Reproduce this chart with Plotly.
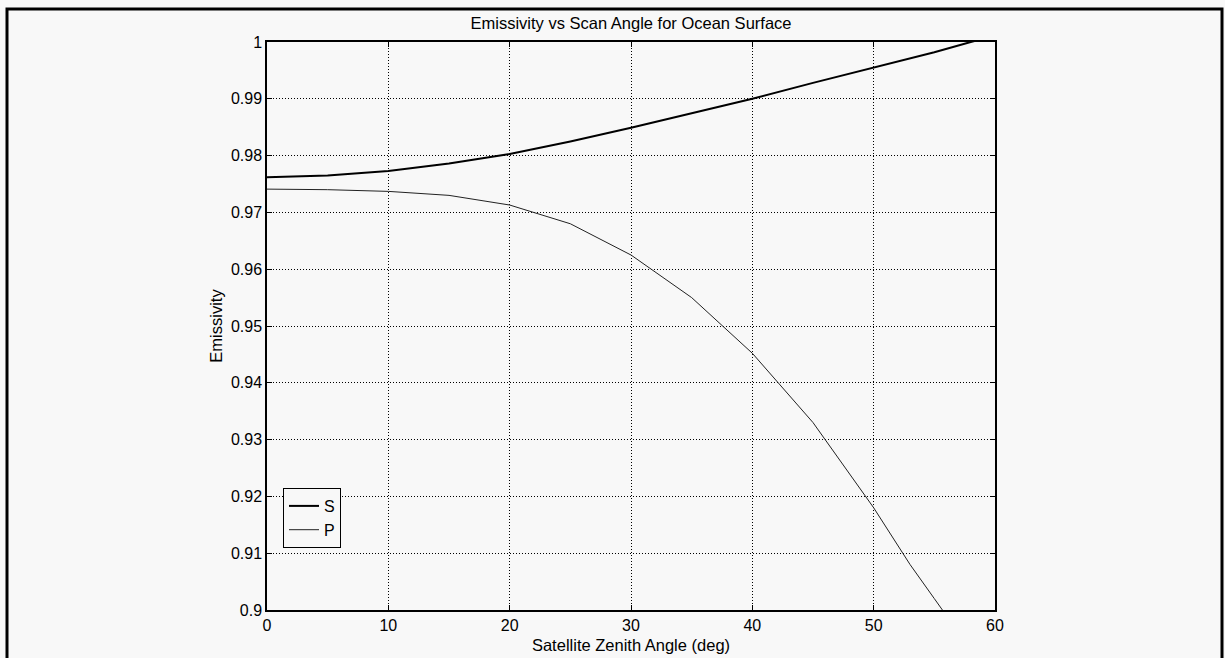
import plotly.graph_objects as go

angle = [0, 5, 10, 15, 20, 25, 30, 35, 40, 45, 50, 55, 58, 60]
emis_s = [0.9762, 0.9765, 0.9773, 0.9786, 0.9803, 0.9825, 0.9849, 0.9874, 0.9900, 0.9928, 0.9955, 0.9982, 1.0, 1.0011]
angle_p = [0, 5, 10, 15, 20, 25, 30, 35, 40, 45, 50, 53, 55, 56, 58, 60]
emis_p = [0.9741, 0.9740, 0.9737, 0.9730, 0.9713, 0.9680, 0.9625, 0.9550, 0.9452, 0.9330, 0.9180, 0.9080, 0.9020, 0.8990, 0.8920, 0.8850]

x_ticks = [0, 10, 20, 30, 40, 50, 60]
y_ticks = [0.9, 0.91, 0.92, 0.93, 0.94, 0.95, 0.96, 0.97, 0.98, 0.99, 1.0]
y_labels = ["0.9", "0.91", "0.92", "0.93", "0.94", "0.95", "0.96", "0.97", "0.98", "0.99", "1"]

W, H = 1225, 658
L, R, T, B = 267, 995, 42, 610

fig = go.Figure()
fig.add_trace(go.Scatter(x=angle, y=emis_s, mode="lines", name="S",
                         line=dict(color="black", width=2)))
fig.add_trace(go.Scatter(x=angle_p, y=emis_p, mode="lines", name="P",
                         line=dict(color="#222222", width=1)))

FAM = "Liberation Sans, Arial, sans-serif"
tick_font = dict(family=FAM, size=16, color="black")
lab_font = dict(family=FAM, size=16.5, color="black")
axis_common = dict(showline=True, linecolor="black", linewidth=1.5, mirror="ticks",
                   ticks="inside", ticklen=5, tickcolor="black",
                   showgrid=True, gridcolor="black", griddash="1px,2px", gridwidth=1,
                   zeroline=False, tickfont=tick_font, automargin=False)

fig.update_layout(
    width=W, height=H,
    margin=dict(l=L, r=W - R, t=T, b=H - B, pad=0),
    paper_bgcolor="#f8f8f8", plot_bgcolor="#f8f8f8",
    font=tick_font,
    title=dict(text="Emissivity vs Scan Angle for Ocean Surface", x=(L + R) / 2 / W,
               xanchor="center", y=1 - 23 / H, yanchor="middle", yref="container",
               font=lab_font),
    xaxis=dict(range=[0, 60], tickvals=x_ticks, ticktext=[str(v) for v in x_ticks],
               title=dict(text="Satellite Zenith Angle (deg)", standoff=6, font=lab_font),
               **axis_common),
    yaxis=dict(range=[0.9, 1.0], tickvals=y_ticks, ticktext=y_labels,
               title=dict(text="Emissivity", standoff=4, font=lab_font),
               **axis_common),
    showlegend=True,
    legend=dict(x=(283 - L) / (R - L), y=(B - 488) / (B - T), xanchor="left", yanchor="top",
                bgcolor="#f8f8f8", bordercolor="black", borderwidth=1,
                font=dict(family=FAM, size=16, color="black"),
                tracegroupgap=0, itemwidth=30),
)

# outer frame
fig.add_shape(type="rect", xref="paper", yref="paper",
              x0=(7 - L) / (R - L), x1=(1222 - L) / (R - L),
              y0=(B - 670) / (B - T), y1=(B - 9) / (B - T),
              line=dict(color="black", width=3), fillcolor="rgba(0,0,0,0)", layer="above")

fig.write_html("out.html")
